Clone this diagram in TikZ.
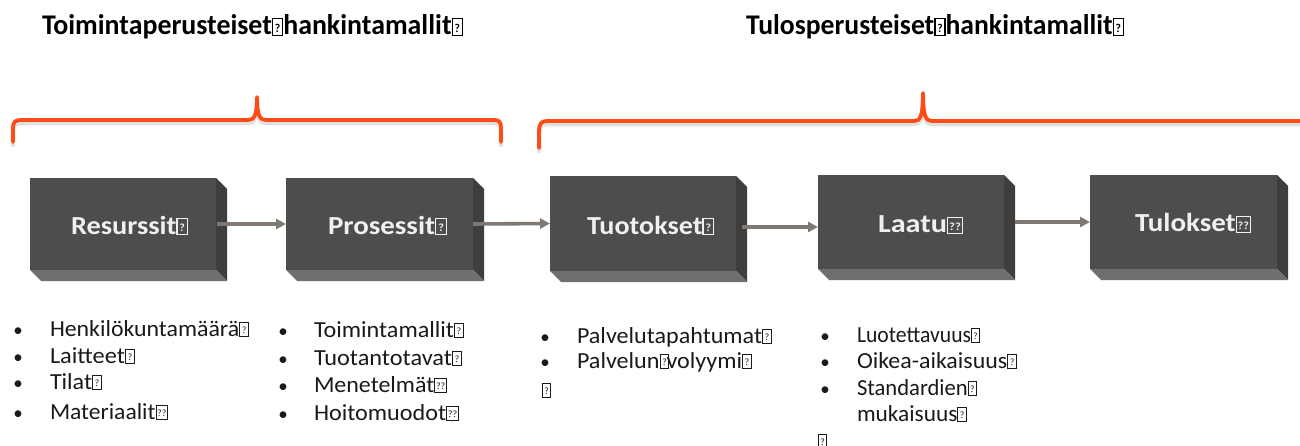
\documentclass[tikz,border=0pt]{standalone}
\usepackage{fontspec}
\setmainfont{Carlito}
\usepackage{graphicx}
\usetikzlibrary{arrows.meta,calc}
\definecolor{frontc}{HTML}{4D4D4D}
\definecolor{sidec}{HTML}{3E3E3E}
\definecolor{botc}{HTML}{6F6F6F}
\definecolor{lblc}{HTML}{F0F0F0}
\definecolor{arrc}{HTML}{7F7873}
\definecolor{bracec}{HTML}{FF4B14}
\definecolor{listc}{HTML}{1A1A1A}
\newcommand\tofu{{\setlength\fboxsep{0pt}\setlength\fboxrule{0.045em}\fbox{\rule{0pt}{0.56em}\makebox[0.32em]{\raisebox{0.1em}{\scalebox{0.42}{?}}}}}}
\newcommand\tofutwo{{\setlength\fboxsep{0pt}\setlength\fboxrule{0.045em}\fbox{\rule{0pt}{0.56em}\makebox[0.44em]{\raisebox{0.1em}{\scalebox{0.42}{??}}}}}}
\newcommand\fitw[2]{\resizebox{#1pt}{\height}{#2}}
\newcommand\boxfaces[1]{%
  \fill[sidec] (#1.north east) -- ++(11,11) -- ($(#1.south east)+(11,11)$) -- (#1.south east) -- cycle;
  \fill[botc] (#1.south west) -- (#1.south east) -- ++(11,11) -- ($(#1.south west)+(11,11)$) -- cycle;}
\tikzset{
  frontbox/.style={fill=frontc, draw=none, inner sep=0pt, outer sep=0pt, minimum width=#1},
  frontbox/.default=186pt,
  txt/.style={anchor=base west, inner sep=0pt, outer sep=0pt},
  ttl/.style={txt, text=black, font=\fontsize{28.5}{32}\selectfont\bfseries},
  lbl/.style={txt, text=lblc, font=\fontsize{26}{30}\selectfont\bfseries},
  lst/.style={txt, text=listc, font=\fontsize{23}{27}\selectfont},
  bul/.style={anchor=base, inner sep=0pt, outer sep=0pt, text=listc, font=\fontsize{19}{23}\selectfont},
  arr/.style={draw=arrc, line width=3.6pt, -{Triangle[length=10pt,width=10pt]}},
  brace/.style={draw=bracec, line width=3.8pt, line cap=round, line join=round},
  braceshadow/.style={draw=black, opacity=0.12, line width=4.5pt, line cap=round, yshift=-3pt}
}
\begin{document}
\begin{tikzpicture}[x=1pt, y=-1pt]
\useasboundingbox[fill=white] (0,0) rectangle (1300,446);

% titles
\node[ttl] (t1) at (42,35) {\fitw{421}{Toimintaperusteiset\tofu{}hankintamallit\tofu}};
\node[ttl] (t2) at (746,35) {\fitw{378}{Tulosperusteiset\tofu{}hankintamallit\tofu}};

% braces
\foreach \st in {braceshadow, brace}{
\draw[\st] (13,142) -- (13,128) .. controls (13,122) and (15,120) .. (21,120) -- (248,120)
  .. controls (254,120) and (257,116) .. (257,97) .. controls (257,116) and (260,120) .. (266,120)
  -- (494,120) .. controls (499,120) and (501,122) .. (501,128) -- (501,142);
\draw[\st] (539,148) -- (539,132) .. controls (539,124) and (541,121) .. (547,121) -- (914,121)
  .. controls (920,121) and (923,117) .. (923,93) .. controls (923,117) and (926,121) .. (932,121)
  -- (1300,121);
}

% boxes
\node[frontbox=186pt, minimum height=92pt] (res) at (123,224) {};
\node[frontbox=187pt, minimum height=92pt] (pro) at (379.5,224) {};
\node[frontbox=186pt, minimum height=95pt] (tuo) at (643,223.5) {};
\node[frontbox=186pt, minimum height=94pt] (laa) at (911,222) {};
\node[frontbox=187pt, minimum height=94pt] (tul) at (1183.5,222) {};
\boxfaces{res}\boxfaces{pro}\boxfaces{tuo}\boxfaces{laa}\boxfaces{tul}

% box labels
\node[lbl] (resL) at (71,234) {\fitw{117}{Resurssit\tofu}};
\node[lbl] (proL) at (328,234) {\fitw{119}{Prosessit\tofu}};
\node[lbl] (tuoL) at (587,234) {\fitw{127}{Tuotokset\tofu}};
\node[lbl] (laaL) at (878,233) {\fitw{85}{Laatu\tofutwo}};
\node[lbl] (tulL) at (1135,232) {\fitw{116}{Tulokset\tofutwo}};

% arrows
\draw[arr] ($(res.east)+(1,0)$) -- (pro.west);
\draw[arr] (pro.east) -- (tuo.west);
\draw[arr] ($(tuo.east)+(6,3.5)$) -- ($(laa.west)+(0,5)$);
\draw[arr] ($(laa.east)+(11,0)$) -- (tul.west);

% list column 1
\node[bul] (b11) at (18,336) {•};
\node[bul] (b12) at (18,363) {•};
\node[bul] (b13) at (18,389) {•};
\node[bul] (b14) at (18,419) {•};
\node[lst] (l11) at (50,336) {\fitw{199}{Henkilökuntamäärä\tofu}};
\node[lst] (l12) at (50,363) {\fitw{85}{Laitteet\tofu}};
\node[lst] (l13) at (50,389) {\fitw{52}{Tilat\tofu}};
\node[lst] (l14) at (50,419) {\fitw{118}{Materiaalit\tofutwo}};

% list column 2
\node[bul] (b21) at (283,337) {•};
\node[bul] (b22) at (283,365) {•};
\node[bul] (b23) at (283,392) {•};
\node[bul] (b24) at (283,420) {•};
\node[lst] (l21) at (314,337) {\fitw{150}{Toimintamallit\tofu}};
\node[lst] (l22) at (314,365) {\fitw{148}{Tuotantotavat\tofu}};
\node[lst] (l23) at (314,392) {\fitw{133}{Menetelmät\tofutwo}};
\node[lst] (l24) at (314,420) {\fitw{145}{Hoitomuodot\tofutwo}};

% list column 3
\node[bul] (b31) at (545,343) {•};
\node[bul] (b32) at (545,368) {•};
\node[lst] (l31) at (577,343) {\fitw{195}{Palvelutapahtumat\tofu}};
\node[lst] (l32) at (577,368) {\fitw{175}{Palvelun\tofu\kern-0.12em volyymi\tofu}};
\node[lst] (l33) at (542,397) {\tofu};

% list column 4
\node[bul] (b41) at (825,342) {•};
\node[bul] (b42) at (825,368) {•};
\node[bul] (b43) at (825,395) {•};
\node[lst] (l41) at (857,342) {\fitw{123}{Luotettavuus\tofu}};
\node[lst] (l42) at (857,368) {\fitw{160}{Oikea-aikaisuus\tofu}};
\node[lst] (l43) at (857,395) {\fitw{120}{Standardien\tofu}};
\node[lst] (l44) at (857,421) {\fitw{110}{mukaisuus\tofu}};
\node[lst] (l45) at (818,448) {\tofu};
\end{tikzpicture}
\end{document}
